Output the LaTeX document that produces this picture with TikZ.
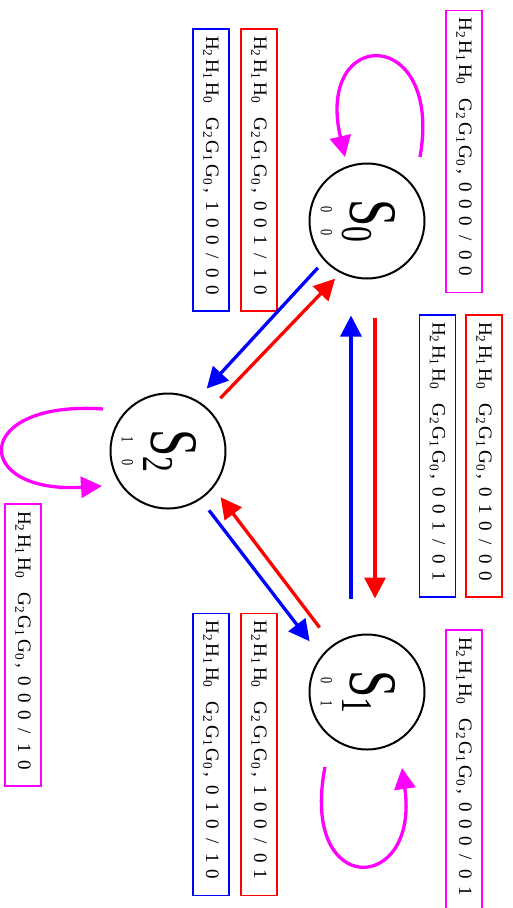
\documentclass[tikz,border=0pt]{standalone}
\usepackage{graphicx}
\usepackage{fontspec}
\setmainfont{Liberation Serif}
\usetikzlibrary{automata,positioning,arrows.meta}
\definecolor{loopmag}{RGB}{255,0,255}

\newcommand{\dg}[1]{\makebox[16.8pt]{#1}}
\newcommand{\hg}[5]{\fontsize{19}{21}\selectfont H\textsubscript{2}\hspace{2.4pt}H\textsubscript{1}\hspace{2.4pt}H\textsubscript{0}\hspace{14pt}G\textsubscript{2}\hspace{2.6pt}G\textsubscript{1}\hspace{2.6pt}G\textsubscript{0}\hspace{3pt},\hspace{4.8pt}\dg{#1}\dg{#2}\dg{#3}\dg{/}\dg{#4}\dg{#5}}
\newcommand{\stname}[3]{\rotatebox{-90}{\begin{tabular}{@{}c@{}}\rule{0pt}{66pt}\scalebox{0.72}[1]{\fontsize{68}{68}\selectfont S\raisebox{-8pt}{\fontsize{44}{44}\selectfont #1}}\\[15pt]\scalebox{0.72}[1]{\fontsize{17}{17}\selectfont #2\hspace{23.5pt}#3}\end{tabular}}}

\begin{document}
\begin{tikzpicture}[x=1pt,y=-1pt,on grid,>={Triangle[length=21pt,width=21pt]},
  every state/.style={draw,line width=2pt,minimum size=115pt,inner sep=0pt},
  tr/.style={->,line width=3.3pt},
  selfloop/.style={->,line width=3.3pt,loopmag},
  lab/.style={draw,line width=1.3pt,rotate=-90,text width=268pt,align=left,inner xsep=7pt,minimum height=36pt}]
  \useasboundingbox (0,0) rectangle (512,908);
  \node[state] (S0) at (367,221) {\stname{0}{0}{0}};
  \node[state] (S1) [below=471pt of S0] {\stname{1}{0}{1}};
  \node[state] (S2) [below left=230pt and 199pt of S0] {\stname{2}{1}{0}};
  \node[lab,draw=blue] (l02) at (211,170) {\hg{1}{0}{0}{0}{0}};
  \node[lab,draw=red] (l20) at (259,170) {\hg{0}{0}{1}{1}{0}};
  \node[lab,draw=loopmag] (l00) at (464,151.5) {\hg{0}{0}{0}{0}{0}};
  \node[lab,draw=blue] (l10) at (437.5,456) {\hg{0}{0}{1}{0}{1}};
  \node[lab,draw=red] (l01) at (484,456) {\hg{0}{1}{0}{0}{0}};
  \node[lab,draw=blue] (l21) at (211,754.5) {\hg{0}{1}{0}{1}{0}};
  \node[lab,draw=red] (l12) at (259,754.5) {\hg{1}{0}{0}{0}{1}};
  \node[lab,draw=loopmag] (l11) at (464,771) {\hg{0}{0}{0}{0}{1}};
  \node[lab,draw=loopmag] (l22) at (23,645) {\hg{0}{0}{0}{1}{0}};
  \path[tr]
  (S0.223.8) edge [blue,shorten <=9.4pt,shorten >=15.3pt] (S2.61.7)
  (S2.45.5) edge [red,shorten <=15.8pt,shorten >=7.7pt] (S0.243)
  (S2.-56.3) edge [blue,shorten <=13.6pt,shorten >=18.5pt] (S1.142.4)
  (S1.126.9) edge [red,shorten <=21.5pt,shorten >=11.8pt] (S2.-39.8)
  ([xshift=-16pt]S1.north) edge [blue,shorten <=35pt,shorten >=36pt] ([xshift=-16pt]S0.south)
  ([xshift=8pt]S0.south) edge [red,shorten <=38pt,shorten >=35pt] ([xshift=8pt]S1.north)
  ;
  \draw[selfloop] ([shift={(53pt,64pt)}]S0.center) to [out=80,in=103,out distance=134pt,in distance=135pt] ([shift={(-22pt,64pt)}]S0.center);
  \draw[selfloop] ([shift={(-42pt,-75pt)}]S1.center) to [out=259,in=278,out distance=135pt,in distance=128pt] ([shift={(35pt,-76pt)}]S1.center);
  \draw[selfloop] ([shift={(-65pt,42pt)}]S2.center) to [out=176,in=183.5,out distance=132pt,in distance=131pt] ([shift={(-66pt,-35pt)}]S2.center);
\end{tikzpicture}
\end{document}
